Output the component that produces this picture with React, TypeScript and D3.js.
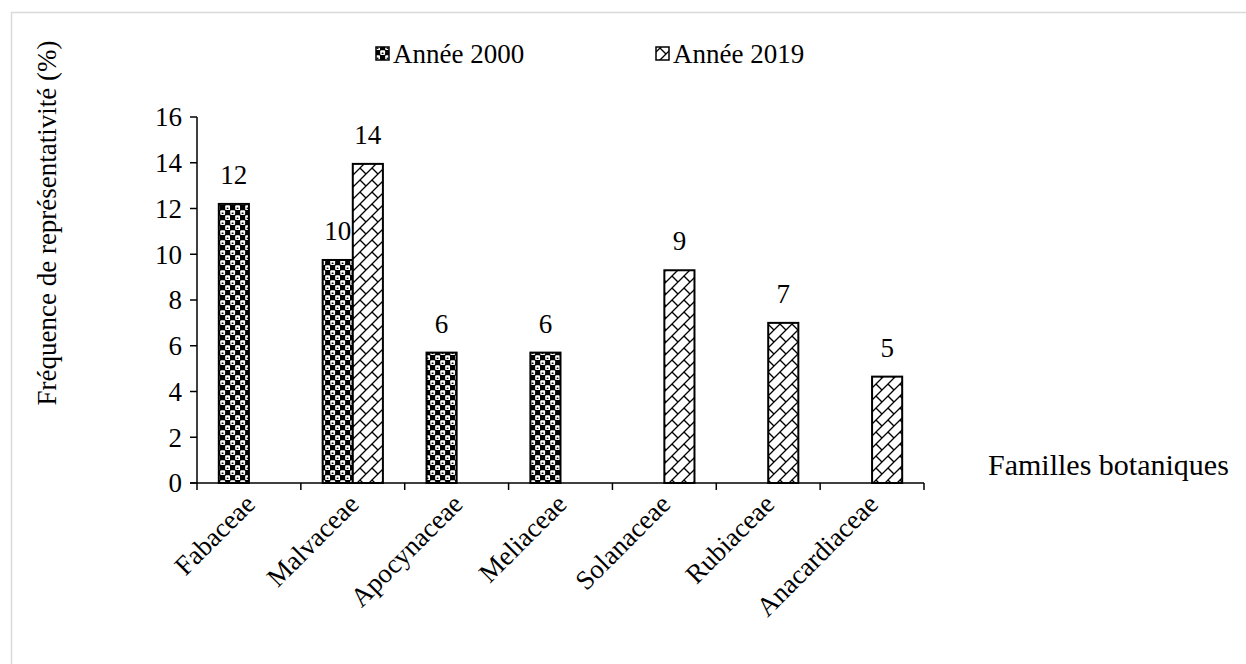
import React from "react";
import * as d3 from "d3";

const families = ["Fabaceae", "Malvaceae", "Apocynaceae", "Meliaceae", "Solanaceae", "Rubiaceae", "Anacardiaceae"];
const year2000: (number | null)[] = [12.2, 9.75, 5.7, 5.7, null, null, null];
const year2019: (number | null)[] = [null, 13.95, null, null, 9.3, 7.0, 4.65];
const seriesNames = ["Année 2000", "Année 2019"];
const yTicks = [0, 2, 4, 6, 8, 10, 12, 14, 16];

const W = 1246;
const H = 664;
const FONT = "'Liberation Serif', 'Times New Roman', serif";
const FS = 27;

export default function App() {
  const x0 = 197;
  const x1 = 924;
  const yTop = 117;
  const yBot = 483;

  const x = d3.scaleBand<string>().domain(families).range([x0, x1]).paddingInner(0).paddingOuter(0);
  const y = d3.scaleLinear().domain([0, 16]).range([yBot, yTop]);
  const bw = x.bandwidth();
  const barW = 0.29;
  const fmt = d3.format(".0f");

  const series = [year2000, year2019];
  const fills = ["url(#pat2000)", "url(#pat2019)"];

  return (
    <svg width={W} height={H} style={{ position: "absolute", left: 0, top: 0, background: "#fff" }} fontFamily={FONT}>
      <defs>
        <pattern id="pat2000" patternUnits="userSpaceOnUse" width={10} height={10}>
          <rect width={10} height={10} fill="#000" />
          <rect x={0.2} y={0.2} width={4.9} height={4.9} rx={1} fill="#fff" />
          <rect x={5.2} y={5.2} width={4.9} height={4.9} rx={1} fill="#fff" />
          <ellipse cx={2.6} cy={3.3} rx={1.1} ry={0.7} fill="#000" />
          <ellipse cx={7.6} cy={8.3} rx={1.1} ry={0.7} fill="#000" />
        </pattern>
        <pattern id="pat2019" patternUnits="userSpaceOnUse" width={12} height={12}>
          <rect width={12} height={12} fill="#fff" />
          <path d="M0,12 L12,0 M-2,2 L2,-2 M10,14 L14,10" stroke="#000" strokeWidth={1.3} />
          <path d="M0,0 L6,6" stroke="#000" strokeWidth={1.3} />
        </pattern>
      </defs>

      {/* chart frame */}
      <rect x={11.5} y={12.5} width={W + 20} height={H + 20} fill="none" stroke="#d9d9d9" strokeWidth={1.5} />

      {/* legend */}
      {seriesNames.map((name, i) => {
        const lx = i === 0 ? 376 : 656;
        return (
          <g key={name}>
            <rect x={lx} y={47} width={13} height={13} fill={fills[i]} stroke="#000" strokeWidth={1.5} />
            <text x={lx + 17} y={63} fontSize={FS} fill="#000">{name}</text>
          </g>
        );
      })}

      {/* y axis */}
      <line x1={x0} x2={x0} y1={yTop} y2={yBot} stroke="#000" strokeWidth={1.5} />
      {yTicks.map((t) => (
        <g key={t}>
          <line x1={x0 - 7} x2={x0} y1={y(t)} y2={y(t)} stroke="#000" strokeWidth={1.5} />
          <text x={x0 - 15} y={y(t)} dy="0.35em" textAnchor="end" fontSize={FS} fill="#000">{t}</text>
        </g>
      ))}
      <text transform={`translate(56,${223}) rotate(-90)`} textAnchor="middle" fontSize={FS} fill="#000">
        Fréquence de représentativité (%)
      </text>

      {/* bars */}
      {series.map((vals, si) =>
        vals.map((v, ci) => {
          if (v === null) return null;
          const center = (x(families[ci]) as number) + bw / 2;
          const bx = center + (si - 1) * bw * barW;
          return (
            <g key={`${si}-${ci}`}>
              <rect x={bx} y={y(v)} width={bw * barW} height={yBot - y(v)} fill={fills[si]} stroke="#000" strokeWidth={2} />
              <text x={bx + (bw * barW) / 2} y={y(v) - 20} textAnchor="middle" fontSize={FS} fill="#000">{fmt(v)}</text>
            </g>
          );
        })
      )}

      {/* x axis */}
      <line x1={x0 - 7} x2={x1} y1={yBot} y2={yBot} stroke="#000" strokeWidth={1.5} />
      {families.map((f, i) => (
        <line key={f} x1={x0 + i * bw} x2={x0 + i * bw} y1={yBot} y2={yBot + 7} stroke="#000" strokeWidth={1.5} />
      ))}
      <line x1={x1} x2={x1} y1={yBot} y2={yBot + 7} stroke="#000" strokeWidth={1.5} />
      {families.map((f) => (
        <text
          key={f}
          transform={`translate(${(x(f) as number) + bw / 2 + 1},${yBot + 16}) rotate(-45)`}
          textAnchor="end"
          dy="0.35em"
          fontSize={FS}
          fill="#000"
        >
          {f}
        </text>
      ))}
      <text x={988} y={yBot - 8} fontSize={30} fill="#000">Familles botaniques</text>
    </svg>
  );
}
